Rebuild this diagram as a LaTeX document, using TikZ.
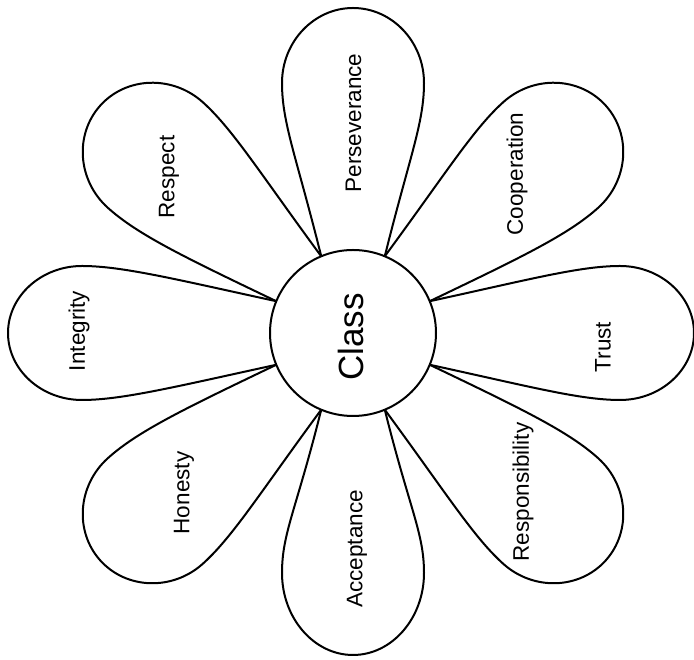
\documentclass[tikz,border=0pt]{standalone}
\usepackage{fontspec}
\setmainfont{Liberation Sans}
\begin{document}
\begin{tikzpicture}[x=1pt,y=1pt,
  petalline/.style={line width=2pt, line join=round},
  label/.style={rotate=90, inner sep=0pt, font=\fontsize{22.5}{26}\selectfont},
  hub/.style={circle, draw, line width=2pt, fill=white, minimum size=166pt, inner sep=0pt}]
\useasboundingbox (0,0) rectangle (694,660);
\coordinate (c) at (353,327);
% #1 axis angle, #2 length, #3 half width, #4 cap depth, #5 nominal angle minus axis angle
\newcommand\flowerpetal[5]{%
  \draw[petalline, shift={(c)}, rotate=#1]
    ({#5-22.5}:83) .. controls (177,{-0.8*#3}) and ({#2-#4-40},-#3) .. ({#2-#4},-#3)
    .. controls ({#2-#4+0.55*#4},-#3) and (#2,{-0.55*#3}) .. (#2,0)
    .. controls (#2,{0.55*#3}) and ({#2-#4+0.55*#4},#3) .. ({#2-#4},#3)
    .. controls ({#2-#4-40},#3) and (177,{0.8*#3}) .. ({#5+22.5}:83);}
\flowerpetal{0}{341}{67}{74}{0}
\flowerpetal{42}{340}{71}{74}{3}
\flowerpetal{90}{325}{71}{75}{0}
\flowerpetal{138}{340}{71}{74}{-3}
\flowerpetal{180}{345}{67}{74}{0}
\flowerpetal{222}{340}{71}{74}{3}
\flowerpetal{270}{322}{71}{82}{0}
\flowerpetal{318}{340}{71}{74}{-3}
\node[hub] (class) at (c) {};
\node[label] (lclass) at (351,323) {\fontsize{35}{40}\selectfont Class};
\node[label] (perseverance) at (353.5,537) {Perseverance};
\node[label] (respect) at (169,483) {Respect};
\node[label] (cooperation) at (517,486) {Cooperation};
\node[label] (integrity) at (79,329) {Integrity};
\node[label] (trust) at (603,313) {Trust};
\node[label] (honesty) at (184,167) {Honesty};
\node[label] (acceptance) at (357,111) {Acceptance};
\node[label] (responsibility) at (523,168) {Responsibility};
\end{tikzpicture}
\end{document}
